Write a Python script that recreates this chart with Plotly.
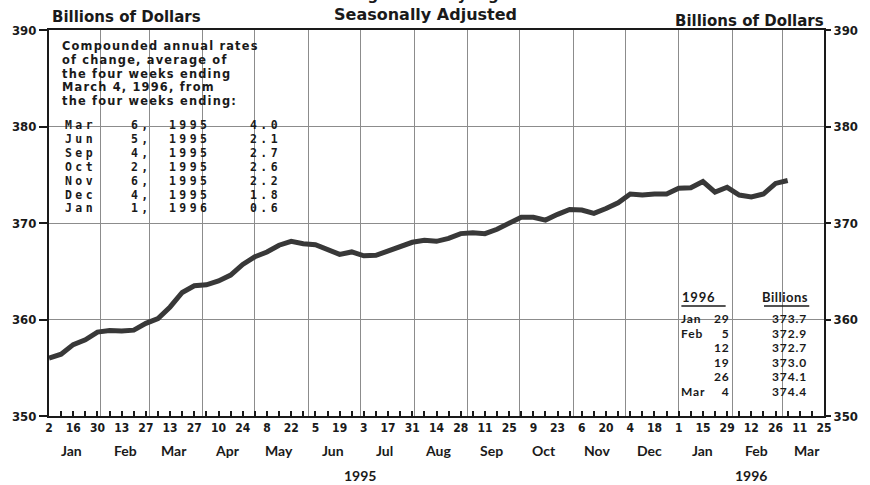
import pandas as pd
import plotly.graph_objects as go

# ---------------- data ----------------
start_week = "1995-01-02"
currency = [356.0, 356.4, 357.4, 357.9, 358.7, 358.85, 358.8, 358.9, 359.6, 360.1,
            361.3, 362.8, 363.5, 363.6, 364.0, 364.6, 365.7, 366.5, 367.0, 367.7,
            368.1, 367.85, 367.75, 367.2, 366.75, 367.0, 366.6, 366.65, 367.1, 367.5,
            368.0, 368.2, 368.1, 368.4, 368.9, 369.0, 368.9, 369.35, 370.0, 370.6,
            370.6, 370.3, 370.9, 371.4, 371.35, 371.0, 371.5, 372.1, 373.0, 372.9,
            373.0, 373.0, 373.6, 373.65, 374.3, 373.2, 373.7, 372.9, 372.7, 373.0,
            374.1, 374.4]
weeks = pd.date_range(start_week, periods=len(currency), freq="7D")

axis_ticks = pd.date_range("1995-01-02", "1996-03-25", freq="7D")
tick_text = [str(d.day) if i % 2 == 0 else "" for i, d in enumerate(axis_ticks)]
month_names = ["Jan", "Feb", "Mar", "Apr", "May", "Jun", "Jul", "Aug", "Sep", "Oct",
               "Nov", "Dec", "Jan", "Feb", "Mar"]
month_mids = pd.date_range("1995-01-01", periods=len(month_names), freq="MS") + pd.Timedelta(days=14)
year_labels = ["1995", "1996"]
year_pos = ["1995-07-01", "1996-02-12"]
y_ticks = [350, 360, 370, 380, 390]

box_lines = ["Compounded annual rates", "of change, average of", "the four weeks ending",
             "March 4, 1996, from", "the four weeks ending:"]
rate_months = ["Mar", "Jun", "Sep", "Oct", "Nov", "Dec", "Jan"]
rate_days = ["6,", "5,", "4,", "2,", "6,", "4,", "1,"]
rate_years = ["1995", "1995", "1995", "1995", "1995", "1995", "1996"]
rate_values = ["4.0", "2.1", "2.7", "2.6", "2.2", "1.8", "0.6"]

tbl_months = ["Jan", "Feb", "", "", "", "Mar"]
tbl_days = ["29", "5", "12", "19", "26", "4"]
tbl_values = ["373.7", "372.9", "372.7", "373.0", "374.1", "374.4"]

# ---------------- layout helpers ----------------
W, H = 870, 485
L, R, T, B = 45, 37, 30, 69
PW, PH = W - L - R, H - T - B


def px(x):
    return (x - L) / PW


def py(y):
    return (H - B - y) / PH


INK = "#1a1a1a"
GRID = "#8c8c8c"
SANS = "'DejaVu Sans', Lato, sans-serif"
LATO = "Lato, 'DejaVu Sans', sans-serif"
NARROW = "'Liberation Sans Narrow', 'DejaVu Sans Condensed', 'Liberation Sans', sans-serif"
MONO = "'DejaVu Sans Mono', 'Liberation Mono', monospace"

fig = go.Figure()
fig.add_trace(go.Scatter(x=weeks, y=currency, mode="lines",
                         line=dict(color="#383838", width=5), hoverinfo="skip",
                         showlegend=False))
fig.add_trace(go.Scatter(x=[], y=[], yaxis="y2", showlegend=False))

ann = []


def text(x, y, s, size=14, family=SANS, xanchor="left", color=INK, weight=None,
         align="left", style=None):
    f = dict(size=size, family=family, color=color)
    if weight:
        f["weight"] = weight
    if style is not None:
        s = "<br>".join(f'<span style="{style}">{p}</span>' for p in s.split("<br>"))
    ann.append(dict(x=px(x), y=py(y), xref="paper", yref="paper", text=s,
                    showarrow=False, xanchor=xanchor, yanchor="middle", align=align,
                    font=f))


# titles
text(430, -5, "Averages of Daily Figures", size=15, xanchor="center", weight="bold")
text(428, 14, "Seasonally Adjusted", size=16, xanchor="center", weight="bold")
text(46, 17, "Billions of Dollars", size=15, weight="bold")
text(835, 21, "Billions of Dollars", size=15, xanchor="right", weight="bold")

# left text box (one paragraph, line pitch 13.8 px)
text(56, 74, "<br>".join(box_lines), size=10.6, weight="bold",
     style="font-size:11.4px;letter-spacing:1.2px")

# rate table, one block per column (line pitch 13.9 px)
rows_mid = 166.5
mono_style = "font-size:11.5px;letter-spacing:3.4px"
text(59, rows_mid, "<br>".join(rate_months), size=10.7, family=MONO, style=mono_style,
     weight="bold")
text(152, rows_mid, "<br>".join(rate_days), size=10.7, family=MONO, style=mono_style,
     xanchor="right", align="right", weight="bold")
text(211, rows_mid, "<br>".join(rate_years), size=10.7, family=MONO, style=mono_style,
     xanchor="right", align="right", weight="bold")
text(283, rows_mid, "<br>".join(rate_values), size=10.7, family=MONO, style=mono_style,
     xanchor="right", align="right", weight="bold")

# right table (line pitch 14.6 px)
text(687, 297, "1996", size=13, family=LATO, weight="bold", style="letter-spacing:0.8px")
text(819, 297, "Billions", size=13, family=LATO, xanchor="right", weight="bold",
     style="letter-spacing:0.5px")
tbl_mid = 355
tstyle = "font-size:12px;letter-spacing:0.9px"
text(686, tbl_mid, "<br>".join(m if m else "&nbsp;" for m in tbl_months), size=11.2,
     family=LATO, weight="bold", style=tstyle)
text(739, tbl_mid, "<br>".join(tbl_days), size=11.2, family=LATO, xanchor="right",
     align="right", weight="bold", style=tstyle)
text(818, tbl_mid, "<br>".join(tbl_values), size=11.2, family=LATO, xanchor="right",
     align="right", weight="bold", style=tstyle)

# month and year labels
for m, d in zip(month_names, month_mids):
    ann.append(dict(x=d, y=py(450), xref="x", yref="paper", text=m, showarrow=False,
                    xanchor="center", yanchor="middle",
                    font=dict(size=14, family=LATO, color=INK, weight="bold")))
for yl, d in zip(year_labels, year_pos):
    ann.append(dict(x=d, y=py(475), xref="x", yref="paper", text=yl, showarrow=False,
                    xanchor="center", yanchor="middle",
                    font=dict(size=14, family=LATO, color=INK, weight="bold")))

shapes = [
    dict(type="rect", xref="paper", yref="paper", x0=0, x1=px(286), y0=py(218.5), y1=1,
         fillcolor="white", line=dict(width=0), layer="between"),
    dict(type="rect", xref="paper", yref="paper", x0=px(675), x1=1, y0=py(400), y1=py(282),
         fillcolor="white", line=dict(width=0), layer="between"),
    dict(type="line", xref="paper", yref="paper", x0=px(688), x1=px(733), y0=py(306), y1=py(306),
         line=dict(color=INK, width=1.5)),
    dict(type="line", xref="paper", yref="paper", x0=px(772), x1=px(818), y0=py(306), y1=py(306),
         line=dict(color=INK, width=1.5)),
]

tickfont = dict(size=13, family=NARROW, color=INK, weight="bold")

fig.update_layout(
    width=W, height=H,
    margin=dict(l=L, r=R, t=T, b=B),
    paper_bgcolor="white", plot_bgcolor="white",
    showlegend=False,
    annotations=ann, shapes=shapes,
    xaxis=dict(type="date", range=[axis_ticks[0], axis_ticks[-1]],
               tickmode="array", tickvals=list(axis_ticks), ticktext=tick_text,
               ticks="inside", ticklen=5, tickwidth=1.5, tickcolor=INK,
               tickangle=0, tickfont=dict(size=12, family=NARROW, color=INK, weight="bold"),
               showline=True, linewidth=2, linecolor=INK, mirror=True,
               showgrid=False, zeroline=False,
               minor=dict(dtick="M1", tick0="1995-01-01", showgrid=True,
                          gridcolor=GRID, gridwidth=1, ticks="")),
    yaxis=dict(range=[350, 390], tickvals=y_ticks, ticks="outside", ticklen=8,
               tickwidth=1.5, tickcolor=INK, tickfont=tickfont,
               showline=True, linewidth=2, linecolor=INK, mirror=True,
               showgrid=True, gridcolor=GRID, gridwidth=1, zeroline=False),
    yaxis2=dict(range=[350, 390], tickvals=y_ticks, overlaying="y", side="right",
                ticks="outside", ticklen=6, tickwidth=1.5, tickcolor=INK,
                tickfont=tickfont, showgrid=False, zeroline=False, showline=False),
)

fig.write_html("out.html", config={"displayModeBar": False},
               post_script="document.body.style.margin='0';document.body.style.overflow='hidden';")
